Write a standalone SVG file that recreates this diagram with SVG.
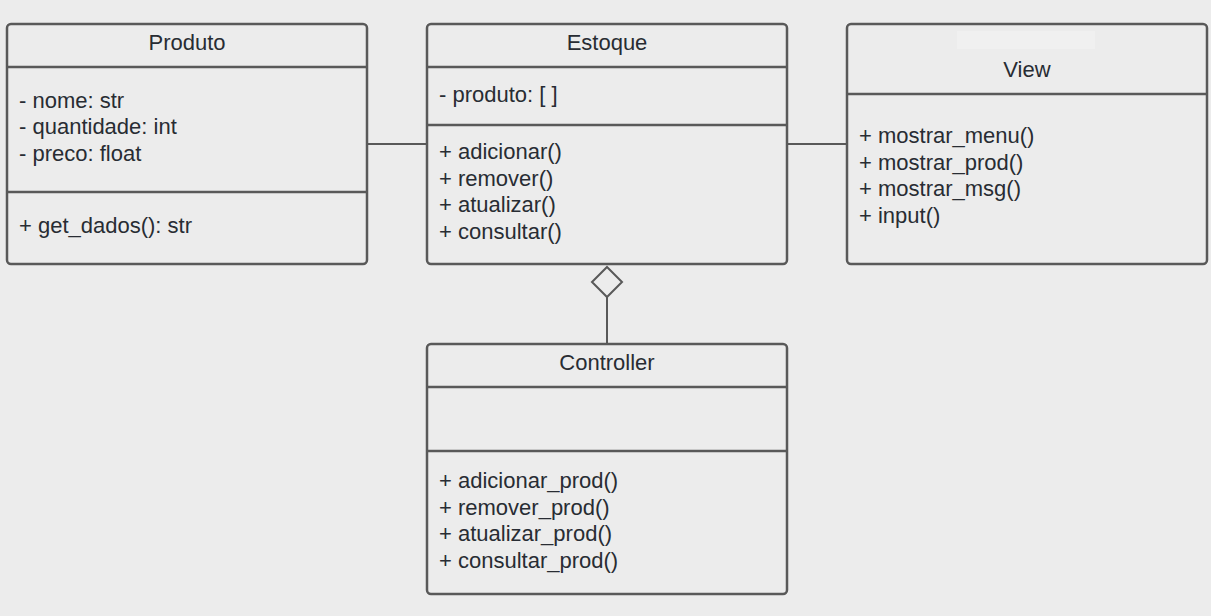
<svg xmlns="http://www.w3.org/2000/svg" width="1211" height="616" viewBox="0 0 1211 616">
<style>
.bg{fill:#ececec}
.box{fill:#ececec;stroke:#595959;stroke-width:2.5}
.div{stroke:#595959;stroke-width:2.5}
.con{stroke:#595959;stroke-width:2;fill:none}
.dia{stroke:#595959;stroke-width:2;fill:#ececec}
text{font-family:"Liberation Sans",Arial,sans-serif;font-size:22px;fill:#282c33}
.t{text-anchor:middle}
</style>
<rect class="bg" x="0" y="0" width="1211" height="616"/>
<g id="connectors">
<line class="con" x1="368" y1="144" x2="427" y2="144"/>
<line class="con" x1="788" y1="144" x2="847" y2="144"/>
<line class="con" x1="607" y1="297" x2="607" y2="344"/>
<path class="dia" d="M607 267 L622 282 L607 297 L592 282 Z"/>
</g>
<g id="produto">
<rect class="box" x="7" y="24" width="360" height="240" rx="4"/>
<line class="div" x1="7" y1="67" x2="367" y2="67"/>
<line class="div" x1="7" y1="192" x2="367" y2="192"/>
<text class="t" x="187" y="50">Produto</text>
<text x="19" y="108">- nome: str</text>
<text x="19" y="134">- quantidade: int</text>
<text x="19" y="161">- preco: float</text>
<text x="19" y="233">+ get_dados(): str</text>
</g>
<g id="estoque">
<rect class="box" x="427" y="24" width="360" height="240" rx="4"/>
<line class="div" x1="427" y1="67" x2="787" y2="67"/>
<line class="div" x1="427" y1="125" x2="787" y2="125"/>
<text class="t" x="607" y="50">Estoque</text>
<text x="439" y="102">- produto: [ ]</text>
<text x="439" y="159">+ adicionar()</text>
<text x="439" y="186">+ remover()</text>
<text x="439" y="212">+ atualizar()</text>
<text x="439" y="239">+ consultar()</text>
</g>
<g id="view">
<rect class="box" x="847" y="24" width="360" height="240" rx="4"/>
<rect x="957" y="31" width="138" height="18" fill="#f0f0f0"/>
<line class="div" x1="847" y1="94" x2="1207" y2="94"/>
<text class="t" x="1027" y="77">View</text>
<text x="859" y="143">+ mostrar_menu()</text>
<text x="859" y="170">+ mostrar_prod()</text>
<text x="859" y="196">+ mostrar_msg()</text>
<text x="859" y="223">+ input()</text>
</g>
<g id="controller">
<rect class="box" x="427" y="344" width="360" height="250" rx="4"/>
<line class="div" x1="427" y1="387" x2="787" y2="387"/>
<line class="div" x1="427" y1="451" x2="787" y2="451"/>
<text class="t" x="607" y="370">Controller</text>
<text x="439" y="488">+ adicionar_prod()</text>
<text x="439" y="515">+ remover_prod()</text>
<text x="439" y="541">+ atualizar_prod()</text>
<text x="439" y="568">+ consultar_prod()</text>
</g>
</svg>
